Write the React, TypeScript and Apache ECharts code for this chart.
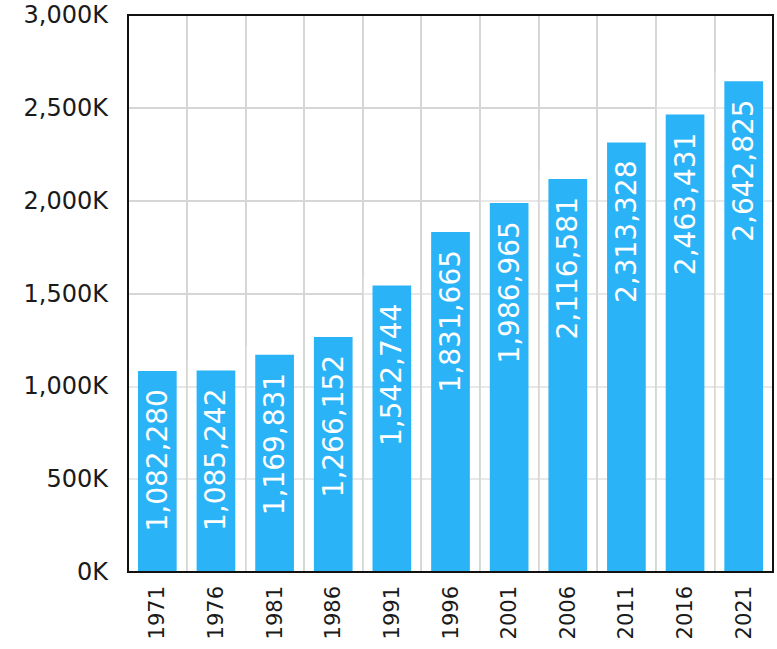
import React, { useEffect, useRef } from "react";
import * as echarts from "echarts";

const years = ["1971", "1976", "1981", "1986", "1991", "1996", "2001", "2006", "2011", "2016", "2021"];
const population = [1082280, 1085242, 1169831, 1266152, 1542744, 1831665, 1986965, 2116581, 2313328, 2463431, 2642825];
const yTicks = { min: 0, max: 3000000, interval: 500000 };

const FONT = "DejaVu Sans";
const BAR_RATIO = 0.66;
const W = 777;
const H = 649;
const G = { left: 128, right: 4, top: 15, bottom: 77 };

export default function App() {
  const ref = useRef<HTMLDivElement>(null);
  useEffect(() => {
    if (!ref.current) return;
    const chart = echarts.init(ref.current, null, { renderer: "svg" });
    const frameLine = { show: true, onZero: false, lineStyle: { color: "#111", width: 2 } };
    chart.setOption({
      animation: false,
      backgroundColor: "#ffffff",
      grid: { ...G, containLabel: false },
      graphic: [
        {
          type: "rect",
          z: 100,
          silent: true,
          shape: { x: G.left, y: G.top, width: W - G.left - G.right, height: H - G.top - G.bottom },
          style: { fill: "none", stroke: "#111", lineWidth: 2 },
        },
      ],
      xAxis: {
        type: "category",
        data: years,
        axisLine: frameLine,
        axisTick: { show: false },
        splitLine: { show: true, interval: 0, lineStyle: { color: "#d6d6d6", width: 2 } },
        axisLabel: {
          rotate: 90,
          interval: 0,
          margin: 14,
          color: "#1a1a1a",
          fontFamily: FONT,
          fontSize: 21,
        },
      },
      yAxis: {
        type: "value",
        min: yTicks.min,
        max: yTicks.max,
        interval: yTicks.interval,
        axisLine: frameLine,
        axisTick: { show: false },
        splitLine: { show: true, lineStyle: { color: "#d6d6d6", width: 2 } },
        axisLabel: {
          margin: 20,
          color: "#1a1a1a",
          fontFamily: FONT,
          fontSize: 24,
          formatter: (v: number) => (v / 1000).toLocaleString("en-US") + "K",
        },
      },
      series: [
        {
          type: "custom",
          z: 1,
          silent: true,
          clip: true,
          data: population.map((v, i) => [i, v]),
          renderItem: (params: any, api: any) => {
            const idx = api.value(0);
            const val = api.value(1);
            const top = api.coord([idx, val]);
            const base = api.coord([idx, 0]);
            const bw = api.size([1, 0])[0] * BAR_RATIO;
            const pad = 9;
            return {
              type: "rect",
              shape: {
                x: top[0] - bw / 2 - pad,
                y: top[1] - pad,
                width: bw + pad * 2,
                height: base[1] - top[1] + pad,
              },
              style: { fill: "rgba(255,255,255,0.45)" },
            };
          },
        },
        {
          type: "bar",
          z: 2,
          data: population,
          barCategoryGap: "34%",
          itemStyle: { color: "#2BB3F8" },
          label: {
            show: true,
            position: "insideTop",
            distance: 18,
            rotate: 90,
            align: "right",
            verticalAlign: "middle",
            color: "#ffffff",
            fontFamily: FONT,
            fontSize: 28,
            formatter: (p: any) => Number(p.value).toLocaleString("en-US"),
          },
        },
      ],
    });
    return () => chart.dispose();
  }, []);
  return (
    <div
      ref={ref}
      style={{ position: "fixed", left: 0, top: 0, width: W, height: H }}
    />
  );
}
